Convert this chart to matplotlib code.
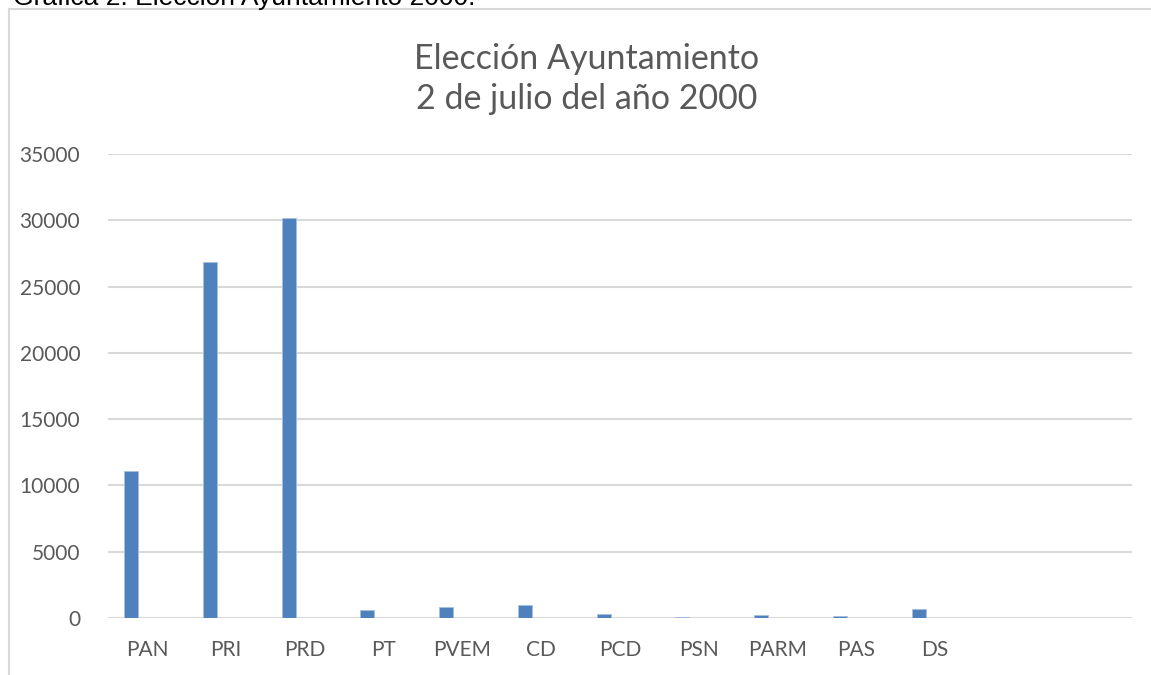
import matplotlib.pyplot as plt
from matplotlib.patches import Rectangle

partidos = ["PAN", "PRI", "PRD", "PT", "PVEM", "CD", "PCD", "PSN", "PARM", "PAS", "DS"]
votos = [11100, 26850, 30150, 580, 810, 960, 300, 60, 230, 150, 650]
n_categorias = 13  # two empty slots at the end, as in the original sheet
y_ticks = [0, 5000, 10000, 15000, 20000, 25000, 30000, 35000]

texto = "#595959"
azul = "#4F81BD"
gris = "#D9D9D9"
plt.rcParams['font.family'] = ['Lato', 'DejaVu Sans']

fig = plt.figure(figsize=(11.51, 6.75), dpi=100)

# frame of the embedded chart
fig.patches.append(Rectangle((8.5 / 1151, -0.1), 1.2, 1 - 8.5 / 675 + 0.1,
                             transform=fig.transFigure, fill=False,
                             edgecolor=gris, linewidth=1.5))
# caption cut off by the top edge
fig.text(13 / 1151, 1 - 5 / 675, "Gráfica 2. Elección Ayuntamiento 2000.",
         family="Liberation Sans", fontsize=19, color="black",
         ha="left", va="baseline")

ax = fig.add_axes([108 / 1151, 1 - 618 / 675, (1132 - 108) / 1151, (618 - 154) / 675])

x = [i - 0.208 for i in range(len(partidos))]
ax.bar(x, votos, width=0.178, color=azul, edgecolor="#A7C0DE", linewidth=0.6, zorder=3)

ax.set_xlim(-0.5, n_categorias - 0.5)
ax.set_ylim(0, 35000)
ax.set_yticks(y_ticks)
ax.set_yticklabels([str(v) for v in y_ticks])
ax.set_xticks(range(len(partidos)))
ax.set_xticklabels(partidos)
ax.tick_params(axis="both", length=0, labelsize=15, colors=texto)
ax.tick_params(axis="x", pad=16)
ax.tick_params(axis="y", pad=20)
ax.grid(axis="y", color=gris, linewidth=1.5, zorder=0)
for s in ax.spines.values():
    s.set_visible(False)

fig.text(587 / 1151, 1 - 79 / 675, "Elección Ayuntamiento\n2 de julio del año 2000",
         ha="center", va="center", fontsize=24.5, color=texto, linespacing=1.3)

fig.savefig("out.png", dpi=100)
